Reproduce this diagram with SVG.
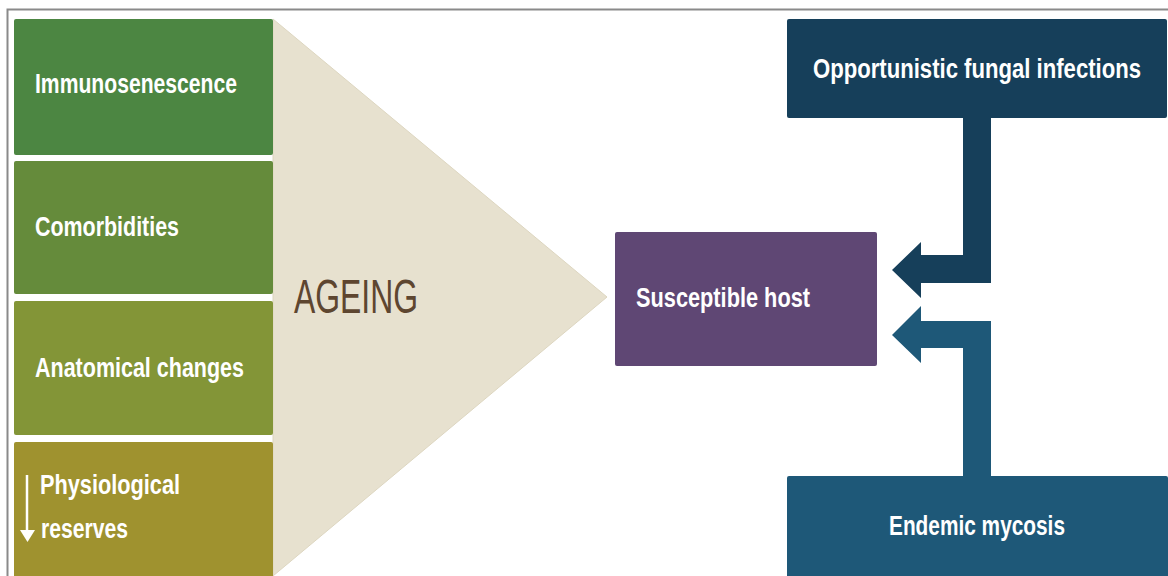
<svg xmlns="http://www.w3.org/2000/svg" width="1168" height="576" viewBox="0 0 1168 576">
<style>
.lbl{font-family:"Liberation Sans","DejaVu Sans",sans-serif;font-weight:bold;font-size:27px;fill:#ffffff;}
.age{font-family:"Liberation Sans","DejaVu Sans",sans-serif;font-size:48px;fill:#5e4630;}
</style>
<rect width="1168" height="576" fill="#ffffff"/>
<path d="M7.5 576 V9.5 H1168" fill="none" stroke="#8a8a8a" stroke-width="2"/>
<g id="ageing">
<polygon points="273,19 607,297 273,576" fill="#e7e1cf" stroke="#ddd6c0" stroke-width="1"/>
<text class="age" x="294" y="313" textLength="124" lengthAdjust="spacingAndGlyphs">AGEING</text>
</g>
<g id="immunosenescence">
<rect x="14" y="19" width="259" height="136" rx="2" fill="#4c8642"/>
<text class="lbl" x="35" y="93" textLength="202" lengthAdjust="spacingAndGlyphs">Immunosenescence</text>
</g>
<g id="comorbidities">
<rect x="14" y="161" width="259" height="133" rx="2" fill="#658b3b"/>
<text class="lbl" x="35" y="236" textLength="144" lengthAdjust="spacingAndGlyphs">Comorbidities</text>
</g>
<g id="anatomical">
<rect x="14" y="301" width="259" height="134" rx="2" fill="#839537"/>
<text class="lbl" x="35" y="377" textLength="209" lengthAdjust="spacingAndGlyphs">Anatomical changes</text>
</g>
<g id="physiological">
<rect x="14" y="442" width="259" height="140" rx="2" fill="#9f922f"/>
<line x1="27" y1="475" x2="27" y2="532" stroke="#ffffff" stroke-width="2.5"/>
<polygon points="20,530 35,530 27.5,542" fill="#ffffff"/>
<text class="lbl" x="40" y="494" textLength="140" lengthAdjust="spacingAndGlyphs">Physiological</text>
<text class="lbl" x="41" y="538" textLength="87" lengthAdjust="spacingAndGlyphs">reserves</text>
</g>
<g id="host">
<rect x="615" y="232" width="262" height="134" rx="2" fill="#5f4774"/>
<text class="lbl" x="636" y="307" textLength="174" lengthAdjust="spacingAndGlyphs">Susceptible host</text>
</g>
<g id="opportunistic">
<rect x="787" y="19" width="380" height="99" rx="2" fill="#163f5a"/>
<text class="lbl" x="813" y="78" textLength="328" lengthAdjust="spacingAndGlyphs">Opportunistic fungal infections</text>
</g>
<g id="endemic">
<rect x="787" y="476" width="381" height="106" rx="2" fill="#1e5878"/>
<text class="lbl" x="889" y="535" textLength="176" lengthAdjust="spacingAndGlyphs">Endemic mycosis</text>
</g>
<g id="connectors">
<polygon points="963,117 991,117 991,283 921,283 921,298 892,270 921,242 921,255 963,255" fill="#163f5a"/>
<polygon points="963,477 991,477 991,321 921,321 921,306 892,335 921,363 921,348 963,348" fill="#1e5878"/>
</g>
</svg>
